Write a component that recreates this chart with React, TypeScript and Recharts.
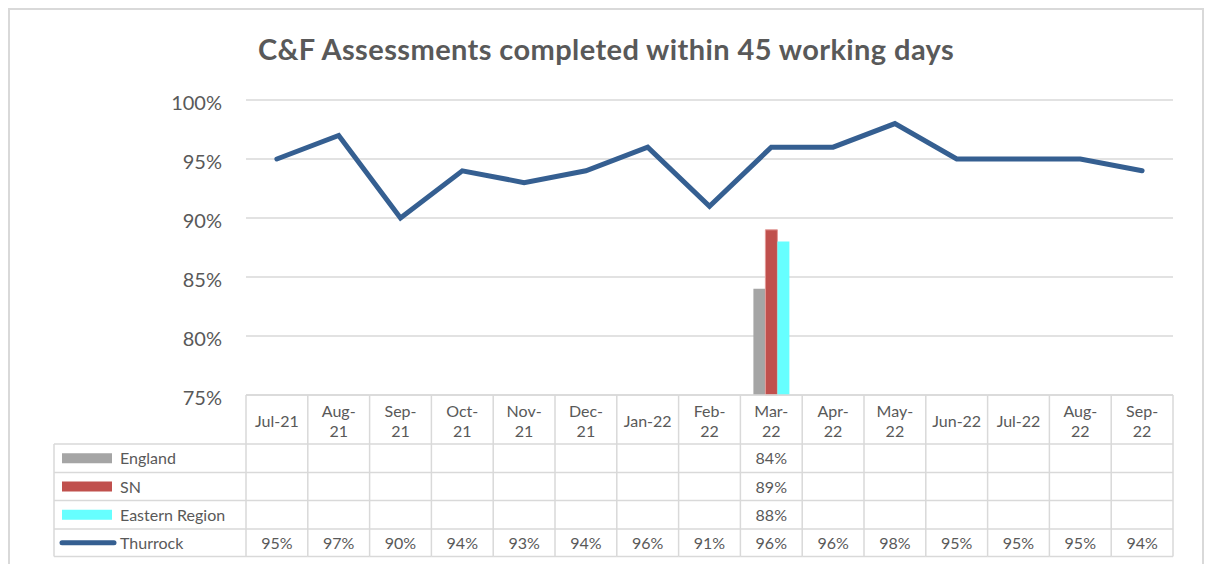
import React from 'react';
import { ComposedChart, Bar, Line, XAxis, YAxis, CartesianGrid } from 'recharts';

const categories = ['Jul-21', 'Aug-21', 'Sep-21', 'Oct-21', 'Nov-21', 'Dec-21', 'Jan-22', 'Feb-22', 'Mar-22', 'Apr-22', 'May-22', 'Jun-22', 'Jul-22', 'Aug-22', 'Sep-22'];
const tickLabels = [['Jul-21'], ['Aug-', '21'], ['Sep-', '21'], ['Oct-', '21'], ['Nov-', '21'], ['Dec-', '21'], ['Jan-22'], ['Feb-', '22'], ['Mar-', '22'], ['Apr-', '22'], ['May-', '22'], ['Jun-22'], ['Jul-22'], ['Aug-', '22'], ['Sep-', '22']];
const england = [null, null, null, null, null, null, null, null, 84, null, null, null, null, null, null];
const sn = [null, null, null, null, null, null, null, null, 89, null, null, null, null, null, null];
const eastern = [null, null, null, null, null, null, null, null, 88, null, null, null, null, null, null];
const thurrock = [95, 97, 90, 94, 93, 94, 96, 91, 96, 96, 98, 95, 95, 95, 94];
const yTicks = [75, 80, 85, 90, 95, 100];
const seriesNames = ['England', 'SN', 'Eastern Region', 'Thurrock'];

const COLORS = { England: '#a5a5a5', SN: '#c0504d', 'Eastern Region': '#66ffff', Thurrock: '#355f91' };
const TEXT = '#595959';
const GRID = '#d9d9d9';
const FONT = 'Lato, "Open Sans", sans-serif';

const data = categories.map((c, i) => ({
  name: c,
  England: england[i],
  SN: sn[i],
  Eastern: eastern[i],
  Thurrock: thurrock[i],
}));

const rows = [england, sn, eastern, thurrock];

const W = 1208;
const H = 564;
const PLOT_LEFT = 246;
const PLOT_RIGHT = 1173;
const PLOT_TOP = 100;
const PLOT_BOTTOM = 395;
const CAT_W = (PLOT_RIGHT - PLOT_LEFT) / categories.length;
const ROW_OFF = [0, 49, 77.5, 105.5, 134, 161.5];
const LEGEND_LEFT = 54;

function TableTick(props: any) {
  const { x, y, payload } = props;
  const i: number = payload.index;
  const left = x - CAT_W / 2;
  const right = x + CAT_W / 2;
  const lines = tickLabels[i];
  const headerMid = y + ROW_OFF[1] / 2 + 0.5;
  const els: any[] = [];
  els.push(<line key="vl" x1={left} x2={left} y1={y} y2={y + ROW_OFF[5]} stroke={GRID} strokeWidth={1.5} />);
  if (i === categories.length - 1) {
    els.push(<line key="vr" x1={right} x2={right} y1={y} y2={y + ROW_OFF[5]} stroke={GRID} strokeWidth={1.5} />);
  }
  ROW_OFF.forEach((o, k) => {
    els.push(<line key={'h' + k} x1={left} x2={right} y1={y + o} y2={y + o} stroke={GRID} strokeWidth={1.5} />);
  });
  if (lines.length === 1) {
    els.push(
      <text key="t0" x={x} y={headerMid} textAnchor="middle" dominantBaseline="central" fill={TEXT} fontSize={16} fontFamily={FONT}>{lines[0]}</text>
    );
  } else {
    lines.forEach((l, k) => {
      els.push(
        <text key={'t' + k} x={x} y={headerMid + (k === 0 ? -10 : 10)} textAnchor="middle" dominantBaseline="central" fill={TEXT} fontSize={16} fontFamily={FONT}>{l}</text>
      );
    });
  }
  rows.forEach((r, k) => {
    const v = r[i];
    if (v == null) return;
    const mid = y + (ROW_OFF[k + 1] + ROW_OFF[k + 2]) / 2 - 0.5;
    els.push(
      <text key={'v' + k} x={x} y={mid} textAnchor="middle" dominantBaseline="central" fill={TEXT} fontSize={16} fontFamily={FONT}>{`${v}%`}</text>
    );
  });
  if (i === 0) {
    els.push(<line key="ll" x1={LEGEND_LEFT} x2={LEGEND_LEFT} y1={y + ROW_OFF[1]} y2={y + ROW_OFF[5]} stroke={GRID} strokeWidth={1.5} />);
    for (let k = 1; k <= 5; k++) {
      els.push(<line key={'lh' + k} x1={LEGEND_LEFT} x2={left} y1={y + ROW_OFF[k]} y2={y + ROW_OFF[k]} stroke={GRID} strokeWidth={1.5} />);
    }
    seriesNames.forEach((n, k) => {
      const mid = y + (ROW_OFF[k + 1] + ROW_OFF[k + 2]) / 2;
      if (n === 'Thurrock') {
        els.push(<line key={'ls' + k} x1={62} x2={114} y1={mid} y2={mid} stroke={COLORS.Thurrock} strokeWidth={5} strokeLinecap="round" />);
      } else {
        els.push(<rect key={'ls' + k} x={62} y={mid - 5} width={50} height={10} fill={(COLORS as any)[n]} />);
      }
      els.push(
        <text key={'lt' + k} x={120} y={mid - 0.5} dominantBaseline="central" fill={TEXT} fontSize={16} fontFamily={FONT}>{n}</text>
      );
    });
  }
  return <g>{els}</g>;
}

export default function App() {
  return (
    <div style={{ position: 'absolute', left: 0, top: 0, width: W, height: H, overflow: 'hidden', background: '#fff' }}>
      <div style={{ position: 'absolute', left: 8, top: 8, width: 1196, height: 620, border: `2px solid ${GRID}`, boxSizing: 'border-box' }} />
      <div style={{ position: 'absolute', left: 0, top: 31, width: 1212, textAlign: 'center', fontFamily: FONT, fontWeight: 700, fontSize: 29, letterSpacing: 0.4, color: TEXT, lineHeight: '36px' }}>
        C&amp;F Assessments completed within 45 working days
      </div>
      <div style={{ position: 'absolute', left: 0, top: 0 }}>
        <ComposedChart
          width={W}
          height={H}
          data={data}
          margin={{ top: PLOT_TOP, right: W - PLOT_RIGHT, bottom: 0, left: 0 }}
          barGap={0}
        >
          <CartesianGrid vertical={false} stroke={GRID} strokeWidth={1.5} />
          <XAxis
            dataKey="name"
            interval={0}
            axisLine={false}
            tickLine={false}
            tickSize={0}
            tickMargin={0}
            height={H - PLOT_BOTTOM}
            tick={<TableTick />}
          />
          <YAxis
            domain={[75, 100]}
            ticks={yTicks}
            width={PLOT_LEFT}
            axisLine={false}
            tickLine={false}
            tickSize={0}
            tickMargin={24}
            tickFormatter={(v: number) => `${v}%`}
            tick={{ fill: TEXT, fontSize: 20, fontFamily: FONT, dy: 3 }}
          />
          <Bar dataKey="England" fill={COLORS.England} barSize={12} isAnimationActive={false} />
          <Bar dataKey="SN" fill={COLORS.SN} stroke="#e39a98" strokeWidth={1} barSize={12} isAnimationActive={false} />
          <Bar dataKey="Eastern" fill={COLORS['Eastern Region']} barSize={12} isAnimationActive={false} />
          <Line
            dataKey="Thurrock"
            stroke={COLORS.Thurrock}
            strokeWidth={5}
            strokeLinecap="round"
            dot={false}
            activeDot={false}
            isAnimationActive={false}
          />
        </ComposedChart>
      </div>
    </div>
  );
}
